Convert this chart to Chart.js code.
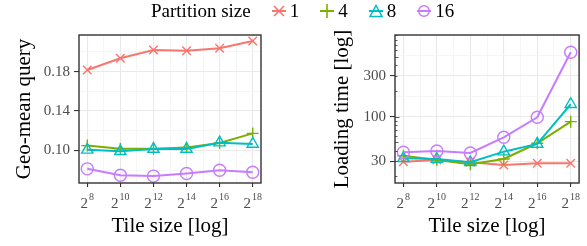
<!DOCTYPE html>
<html>
<head>
<meta charset="utf-8">
<script src="https://cdn.jsdelivr.net/npm/chart.js@4"></script>
<style>
  body { margin: 0; background: #fff; }
  #wrap { position: relative; width: 587px; height: 246px; font-family: 'Liberation Serif', serif; }
  #leftBox { position: absolute; left: 0; top: 0; width: 293px; height: 246px; }
  #rightBox { position: absolute; left: 293px; top: 0; width: 294px; height: 246px; }
  #legend { position: absolute; left: 151px; top: 0px; display: flex; align-items: center; font-size: 19px; color: #000; white-space: nowrap; }
  #legend .item { display: flex; align-items: center; margin-left: 21px; }
  #legend .item:first-of-type { margin-left: 16px; }
  #legend .item svg { margin-right: 4px; }
</style>
</head>
<body>
<div id="wrap">
  <div id="leftBox"><canvas id="queryChart" width="293" height="246"></canvas></div>
  <div id="rightBox"><canvas id="loadChart" width="294" height="246"></canvas></div>
  <div id="legend"><span>Partition size</span></div>
</div>
<script>
// data
const tileExp = [8, 10, 12, 14, 16, 18];          // tile size = 2^exp
const partitionSizes = ['1', '4', '8', '16'];

const queryP1  = [0.1817, 0.1935, 0.2020, 0.2013, 0.2037, 0.2110];
const queryP4  = [0.1048, 0.1015, 0.1015, 0.1030, 0.1075, 0.1172];
const queryP8  = [0.1005, 0.0990, 0.1013, 0.1013, 0.1078, 0.1065];
const queryP16 = [0.0812, 0.0747, 0.0738, 0.0764, 0.0797, 0.0777];

const loadP1  = [29.6, 31.0, 29.2, 27.2, 28.5, 28.5];
const loadP4  = [34.9, 31.0, 27.7, 31.9, 48.8, 87.4];
const loadP8  = [32.5, 31.9, 29.2, 38.9, 47.9, 139.7];
const loadP16 = [38.3, 39.6, 37.5, 57.3, 98.4, 569];

const queryTicks = [0.10, 0.14, 0.18];
const queryMinor = [0.08, 0.12, 0.16, 0.20];
const loadTicks = [30, 100, 300];
const loadMinor = [54.8, 173.2, 519.6];
const xMinor = [9, 11, 13, 15, 17];

const colors = ['#F8766D', '#7CAE00', '#00BFC4', '#C77CFF'];
const shapes = ['crossRot', 'cross', 'triangle', 'circle'];

const FONT = "'Liberation Serif', serif";
const near = (list, v) => list.some(t => Math.abs(t - v) < 1e-6 * Math.max(1, Math.abs(t)));

function makeDatasets(series) {
  return series.map((vals, i) => ({
    label: partitionSizes[i],
    data: tileExp.map((e, j) => ({ x: e, y: vals[j] })),
    borderColor: colors[i],
    backgroundColor: 'transparent',
    borderWidth: 2,
    pointStyle: shapes[i],
    pointRadius: i === 2 ? 6.5 : 6,
    pointBorderWidth: 1.4,
    pointBorderColor: colors[i],
    pointBackgroundColor: 'transparent',
    order: series.length - i,
    tension: 0
  }));
}

// panel border on top of everything (theme_bw style)
const frame = {
  id: 'frame',
  afterDraw(chart) {
    const a = chart.chartArea, ctx = chart.ctx;
    ctx.save();
    ctx.strokeStyle = '#333';
    ctx.lineWidth = 1.4;
    ctx.strokeRect(a.left, a.top, a.right - a.left, a.bottom - a.top);
    ctx.restore();
  }
};

// 2^n labels with a real superscript
const powLabels = {
  id: 'powLabels',
  afterDraw(chart) {
    const x = chart.scales.x, ctx = chart.ctx;
    const base = chart.chartArea.bottom + 25;
    ctx.save();
    ctx.fillStyle = '#4d4d4d';
    ctx.textBaseline = 'alphabetic';
    ctx.textAlign = 'left';
    tileExp.forEach(e => {
      ctx.font = `15px ${FONT}`;
      const wb = ctx.measureText('2').width;
      ctx.font = `10px ${FONT}`;
      const we = ctx.measureText(String(e)).width;
      const start = x.getPixelForValue(e) - (wb + we + 1) / 2;
      ctx.font = `15px ${FONT}`;
      ctx.fillText('2', start, base);
      ctx.font = `10px ${FONT}`;
      ctx.fillText(String(e), start + wb + 1, base - 8);
    });
    ctx.restore();
  }
};

// annotation_logticks-like marks on the left edge of the log panel
const logTicks = {
  id: 'logTicks',
  afterDraw(chart) {
    const y = chart.scales.y, ctx = chart.ctx, left = chart.chartArea.left;
    ctx.save();
    ctx.strokeStyle = '#333';
    ctx.lineWidth = 0.8;
    for (let e = 1; e <= 3; e++) {
      for (let m = 1; m < 10; m++) {
        const v = m * Math.pow(10, e);
        if (v < y.min || v > y.max) continue;
        const py = Math.round(y.getPixelForValue(v)) + 0.5;
        const len = m === 1 ? 4.5 : (m === 5 ? 3.5 : 2.5);
        ctx.beginPath();
        ctx.moveTo(left, py);
        ctx.lineTo(left + len, py);
        ctx.stroke();
      }
    }
    ctx.restore();
  }
};

function xScale() {
  return {
    type: 'linear', min: 7.5, max: 18.5,
    afterBuildTicks: s => { s.ticks = tileExp.concat(xMinor).sort((a, b) => a - b).map(v => ({ value: v })); },
    afterFit: s => { s.height = 63; },
    border: { display: false },
    grid: {
      color: c => near(tileExp, c.tick.value) ? '#e9e9e9' : '#f2f2f2',
      lineWidth: c => near(tileExp, c.tick.value) ? 1.1 : 0.7,
      tickColor: c => near(tileExp, c.tick.value) ? '#333' : 'transparent',
      tickLength: 4,
      tickWidth: 1.1
    },
    ticks: { display: false },
    title: { display: true, text: 'Tile size [log]', color: '#000', font: { family: FONT, size: 21 }, padding: { top: 0, bottom: 7 } }
  };
}

function yGrid(majors) {
  return {
    color: c => near(majors, c.tick.value) ? '#e9e9e9' : '#f2f2f2',
    lineWidth: c => near(majors, c.tick.value) ? 1.1 : 0.7,
    tickColor: c => near(majors, c.tick.value) ? '#333' : 'transparent',
    tickLength: 5,
    tickWidth: 1.1
  };
}

const common = {
  responsive: false,
  animation: false,
  plugins: { legend: { display: false }, tooltip: { enabled: false } }
};

new Chart(document.getElementById('queryChart'), {
  type: 'line',
  data: { datasets: makeDatasets([queryP1, queryP4, queryP8, queryP16]) },
  options: Object.assign({}, common, {
    layout: { padding: { top: 35, right: 32, left: 0, bottom: 0 } },
    scales: {
      x: xScale(),
      y: {
        type: 'linear', min: 0.0668, max: 0.2172,
        afterBuildTicks: s => { s.ticks = queryTicks.concat(queryMinor).sort((a, b) => a - b).map(v => ({ value: v })); },
        afterFit: s => { s.width = 79; },
        border: { display: false },
        grid: yGrid(queryTicks),
        ticks: {
          autoSkip: false, padding: 4, color: '#4d4d4d', font: { family: FONT, size: 15 },
          callback: v => near(queryTicks, v) ? v.toFixed(2) : ''
        },
        title: { display: true, text: 'Geo-mean query', color: '#000', font: { family: FONT, size: 21 }, padding: { top: 12, bottom: 0 } }
      }
    }
  }),
  plugins: [frame, powLabels]
});

new Chart(document.getElementById('loadChart'), {
  type: 'line',
  data: { datasets: makeDatasets([loadP1, loadP4, loadP8, loadP16]) },
  options: Object.assign({}, common, {
    layout: { padding: { top: 35, right: 7, left: 0, bottom: 0 } },
    scales: {
      x: xScale(),
      y: {
        type: 'logarithmic', min: 16.7, max: 905,
        afterBuildTicks: s => { s.ticks = loadTicks.concat(loadMinor).sort((a, b) => a - b).map(v => ({ value: v })); },
        afterFit: s => { s.width = 102; },
        border: { display: false },
        grid: yGrid(loadTicks),
        ticks: {
          autoSkip: false, padding: 4, color: '#4d4d4d', font: { family: FONT, size: 15 },
          callback: v => near(loadTicks, v) ? String(v) : ''
        },
        title: { display: true, text: 'Loading time [log]', color: '#000', font: { family: FONT, size: 21 }, padding: { top: 37, bottom: 0 } }
      }
    }
  }),
  plugins: [frame, powLabels, logTicks]
});

// legend (shared by both panels)
const legend = document.getElementById('legend');
const markerSvg = {
  crossRot: c => `<line x1="2" y1="2" x2="12" y2="12" stroke="${c}" stroke-width="1.6"/><line x1="12" y1="2" x2="2" y2="12" stroke="${c}" stroke-width="1.6"/><line x1="0" y1="7" x2="14" y2="7" stroke="${c}" stroke-width="2"/>`,
  cross: c => `<line x1="7" y1="0" x2="7" y2="14" stroke="${c}" stroke-width="1.6"/><line x1="0" y1="7" x2="14" y2="7" stroke="${c}" stroke-width="2"/>`,
  triangle: c => `<polygon points="7,1.5 13,12.5 1,12.5" fill="none" stroke="${c}" stroke-width="1.5"/><line x1="0" y1="7" x2="14" y2="7" stroke="${c}" stroke-width="2"/>`,
  circle: c => `<circle cx="7" cy="7" r="5.3" fill="none" stroke="${c}" stroke-width="1.5"/><line x1="0" y1="7" x2="14" y2="7" stroke="${c}" stroke-width="2"/>`
};
partitionSizes.forEach((p, i) => {
  const item = document.createElement('span');
  item.className = 'item';
  item.innerHTML = `<svg width="14" height="14" viewBox="0 0 14 14">${markerSvg[shapes[i]](colors[i])}</svg><span>${p}</span>`;
  legend.appendChild(item);
});
</script>
</body>
</html>
